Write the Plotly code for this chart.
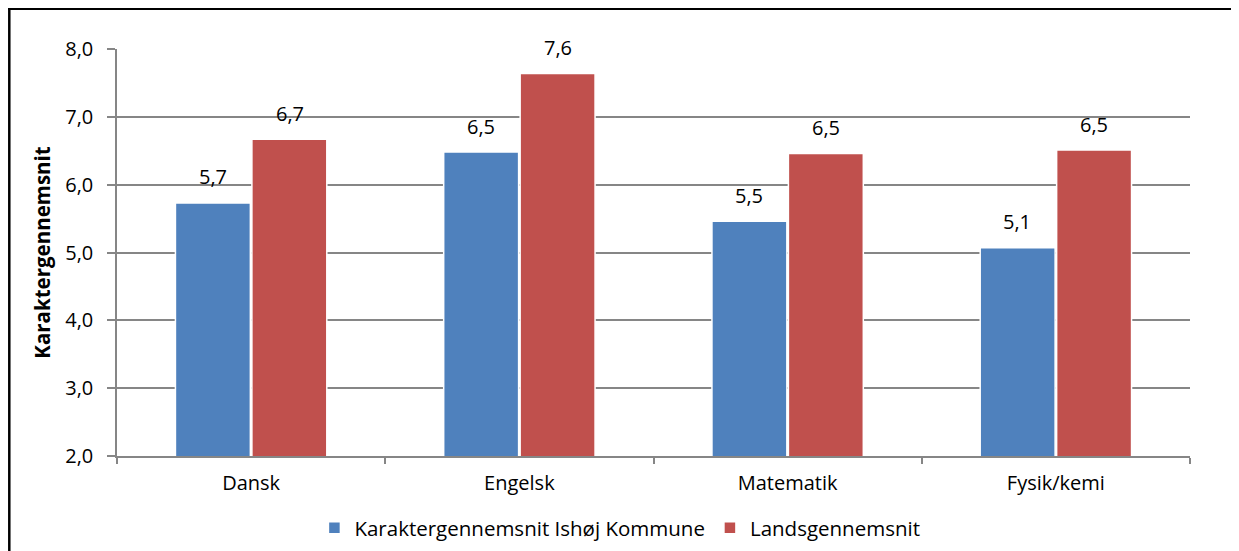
import plotly.graph_objects as go

categories = ["Dansk", "Engelsk", "Matematik", "Fysik/kemi"]
ishoj = [5.73, 6.48, 5.46, 5.07]
lands = [6.67, 7.64, 6.46, 6.51]
series_names = ["Karaktergennemsnit Ishøj Kommune", "Landsgennemsnit"]
ytick_vals = [2, 3, 4, 5, 6, 7, 8]
ytick_text = ["2,0", "3,0", "4,0", "5,0", "6,0", "7,0", "8,0"]

def fmt(v):
    return f"{v:.1f}".replace(".", ",")

FONT = "Open Sans, Liberation Sans, sans-serif"
W, H = 1231, 543
L, R, T, B = 109, 49, 41, 95
PW, PH = W - L - R, H - T - B

fig = go.Figure()
colors = ["#4F81BD", "#C0504D"]
for name, vals, col in [(series_names[0], ishoj, colors[0]), (series_names[1], lands, colors[1])]:
    fig.add_trace(go.Bar(
        x=categories, y=vals, name=name,
        marker=dict(color=col, line=dict(color="white", width=1.5)),
    ))

annotations = []
for vals, dx in [(ishoj, -38.5), (lands, 38.5)]:
    for c, v in zip(categories, vals):
        annotations.append(dict(x=c, y=v, xref="x", yref="y", text=fmt(v), showarrow=False,
                                xshift=dx, yshift=26, yanchor="middle",
                                font=dict(size=20, color="black", family=FONT)))

fig.update_layout(
    width=W, height=H,
    margin=dict(l=L, r=R, t=T, b=B, autoexpand=False),
    paper_bgcolor="white", plot_bgcolor="white",
    barmode="group", bargap=0.43, bargroupgap=0.02,
    font=dict(family=FONT, size=20, color="black"),
    showlegend=True,
    legend=dict(orientation="h", x=0.4687, xanchor="center", yref="container",
                y=23 / H, yanchor="middle", font=dict(size=20.5), traceorder="normal"),
    annotations=annotations,
    xaxis=dict(showline=True, linecolor="#868686", linewidth=1.5, ticks="outside",
               tickson="boundaries", ticklen=6, tickcolor="#868686", tickwidth=1.5,
               showgrid=False, ticklabelstandoff=8),
    yaxis=dict(range=[2, 8], tickvals=ytick_vals, ticktext=ytick_text,
               showline=True, linecolor="#868686", linewidth=1.5,
               ticks="outside", ticklen=8, tickcolor="#868686", tickwidth=1.5,
               showgrid=True, gridcolor="#868686", gridwidth=1.5, zeroline=False,
               ticklabelstandoff=10,
               title=dict(text="<b>Karaktergennemsnit</b>", font=dict(size=20.5), standoff=9)),
    shapes=[
        dict(type="line", xref="paper", yref="paper", x0=(1.3 - L) / PW, x1=(1.3 - L) / PW,
             y0=(PH + T - 0.5) / PH, y1=-(B + 5) / PH, line=dict(color="black", width=2.5)),
        dict(type="line", xref="paper", yref="paper", x0=(0 - L) / PW, x1=(W - L) / PW,
             y0=(PH + T - 1) / PH, y1=(PH + T - 1) / PH, line=dict(color="black", width=2)),
    ],
)
fig.write_html("out.html")
